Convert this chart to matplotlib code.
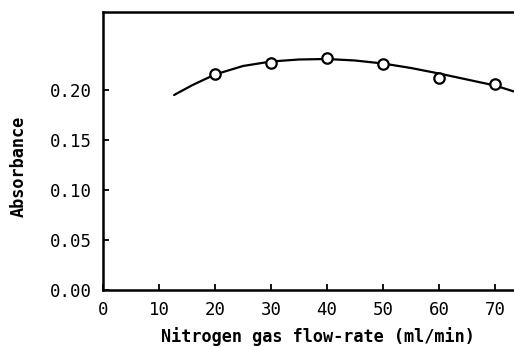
import matplotlib
matplotlib.use("Agg")
import matplotlib.pyplot as plt

# measured points (open circles)
flow_rate = [20, 30, 40, 50, 60, 70]
absorbance = [0.216, 0.2267, 0.2325, 0.226, 0.2117, 0.2057]

# hand-drawn fitted curve
curve_x = [12.7, 16, 20, 25, 30, 35, 40, 45, 50, 55, 60, 65, 70, 73.4]
curve_y = [0.195, 0.205, 0.2155, 0.224, 0.2285, 0.2305, 0.231, 0.2295,
           0.2265, 0.222, 0.2165, 0.2105, 0.2045, 0.1985]

x_ticks = [0, 10, 20, 30, 40, 50, 60, 70]
y_ticks = [0.00, 0.05, 0.10, 0.15, 0.20]

fig = plt.figure(figsize=(5.14, 3.47), dpi=100)
ax = fig.add_axes([103 / 514, 1 - 290 / 347, 1 - 103 / 514, 278 / 347])

ax.plot(curve_x, curve_y, color="black", lw=1.6, solid_capstyle="round")
ax.plot(flow_rate, absorbance, "o", ms=7.5, mfc="white", mec="black", mew=1.6)

ax.set_xlim(0, 73.4)
ax.set_ylim(0, 0.278)
ax.set_xticks(x_ticks)
ax.set_yticks(y_ticks)
ax.set_yticklabels(["%.2f" % v for v in y_ticks])

mono = "DejaVu Sans Mono"
ax.tick_params(direction="in", length=4, width=1.3, labelsize=12.5)
ax.tick_params(axis="x", pad=8)
ax.tick_params(axis="y", pad=8)
for lab in ax.get_xticklabels() + ax.get_yticklabels():
    lab.set_family(mono)

for side in ["left", "bottom", "top"]:
    ax.spines[side].set_linewidth(1.8)
ax.spines["right"].set_visible(False)

ax.set_xlabel("Nitrogen gas flow-rate (ml/min)", family=mono, weight="bold",
              fontsize=12.2)
ax.xaxis.set_label_coords((318 - 103) / 411, -(337 - 290) / 278)
ax.set_ylabel("Absorbance", family=mono, weight="bold", fontsize=12.2)
ax.yaxis.set_label_coords(-(103 - 19) / 411, (290 - 166) / 278)
ax.xaxis.label.set_va("center")
ax.yaxis.label.set_va("center")

fig.savefig("out.png", dpi=100)
